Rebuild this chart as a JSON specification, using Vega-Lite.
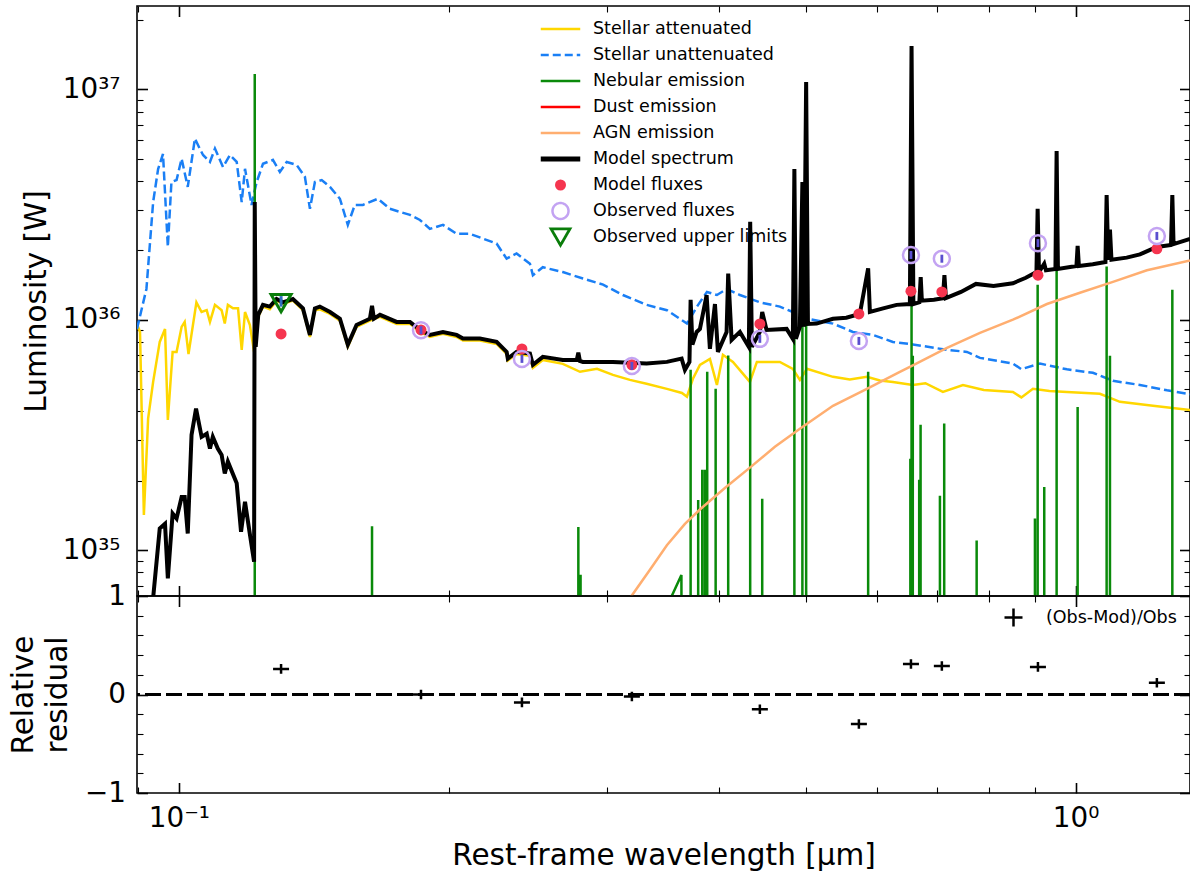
{
  "$schema": "https://vega.github.io/schema/vega-lite/v6.json",
  "background": "white",
  "padding": {"left": 7, "top": 4, "right": 0, "bottom": 0},
  "spacing": 0,
  "bounds": "flush",
  "config": {
    "font": "DejaVu Sans",
    "view": {"stroke": "black", "strokeWidth": 1.6},
    "axis": {"grid": false, "domain": false, "labelFont": "DejaVu Sans", "labelFontSize": 27.8, "labelColor": "black", "titleFont": "DejaVu Sans", "titleFontSize": 29.5, "titleFontWeight": "normal", "titleColor": "black", "tickColor": "black", "zindex": 1},
    "legend": {"labelFont": "DejaVu Sans", "labelColor": "black"}
  },
  "resolve": {
    "scale": {"shape": "independent", "stroke": "independent", "fill": "independent", "strokeDash": "independent", "strokeWidth": "independent", "size": "independent", "color": "independent"},
    "legend": {"shape": "independent", "stroke": "independent", "fill": "independent", "strokeDash": "independent", "strokeWidth": "independent", "size": "independent", "color": "independent"}
  },
  "datasets": {
    "att": [
      {"w":0.0898,"L":9.59e35},{"w":0.0905,"L":8.85e35},{"w":0.0914,"L":1.42e35},{"w":0.0924,"L":3.72e35},{"w":0.0936,"L":5.37e35},{"w":0.0952,"L":8.01e35},{"w":0.0965,"L":9.12e35},{"w":0.0972,"L":3.67e35},{"w":0.0984,"L":7.25e35},{"w":0.0994,"L":7.25e35},{"w":0.1007,"L":9.31e35},{"w":0.1015,"L":9.78e35},{"w":0.1025,"L":7.10e35},{"w":0.1046,"L":1.19e36},{"w":0.1060,"L":1.08e36},{"w":0.1074,"L":1.10e36},{"w":0.1083,"L":9.78e35},{"w":0.1097,"L":1.16e36},{"w":0.1116,"L":1.10e36},{"w":0.1125,"L":9.62e35},{"w":0.1134,"L":1.16e36},{"w":0.1149,"L":1.12e36},{"w":0.1164,"L":1.12e36},{"w":0.1175,"L":7.40e35},{"w":0.1185,"L":1.08e36},{"w":0.1200,"L":9.49e35},{"w":0.1213,"L":7.25e35},
      {"w":0.1226,"L":1.03e36},{"w":0.1241,"L":1.14e36},{"w":0.1263,"L":1.11e36},{"w":0.1285,"L":1.21e36},{"w":0.1306,"L":1.17e36},{"w":0.1340,"L":1.21e36},{"w":0.1375,"L":1.10e36},{"w":0.1400,"L":8.42e35},{"w":0.1418,"L":1.10e36},{"w":0.1436,"L":1.11e36},{"w":0.1474,"L":1.06e36},{"w":0.1512,"L":9.91e35},{"w":0.1543,"L":7.62e35},{"w":0.1578,"L":9.31e35},{"w":0.1633,"L":9.91e35},{"w":0.1676,"L":1.03e36},{"w":0.1749,"L":9.59e35},{"w":0.1810,"L":9.59e35},{"w":0.1857,"L":8.85e35},{"w":0.1905,"L":8.42e35},{"w":0.1970,"L":8.68e35},{"w":0.2040,"L":8.42e35},{"w":0.2074,"L":8.12e35},{"w":0.2166,"L":8.12e35},{"w":0.2261,"L":7.85e35},{"w":0.2320,"L":7.10e35},{"w":0.2327,"L":6.65e35},{"w":0.2380,"L":7.10e35},{"w":0.2463,"L":6.97e35},{"w":0.2482,"L":6.18e35},{"w":0.2546,"L":6.69e35},{"w":0.2680,"L":6.43e35},{"w":0.2801,"L":5.94e35},{"w":0.2926,"L":6.12e35},{"w":0.3048,"L":5.76e35},{"w":0.3184,"L":5.48e35},{"w":0.3323,"L":5.27e35},{"w":0.3501,"L":5.01e35},{"w":0.3639,"L":4.81e35},{"w":0.3686,"L":4.63e35},{"w":0.3743,"L":5.54e35},{"w":0.3811,"L":6.37e35},{"w":0.3910,"L":6.76e35},{"w":0.3981,"L":5.21e35},{"w":0.4043,"L":7.04e35},{"w":0.4148,"L":6.56e35},{"w":0.4333,"L":5.37e35},{"w":0.4411,"L":6.56e35},{"w":0.4679,"L":6.56e35},{"w":0.4838,"L":6.12e35},{"w":0.4926,"L":5.48e35},{"w":0.5016,"L":6.12e35},{"w":0.5363,"L":5.65e35},{"w":0.5600,"L":5.50e35},{"w":0.5851,"L":5.65e35},{"w":0.6050,"L":5.45e35},{"w":0.6255,"L":5.37e35},{"w":0.6584,"L":5.21e35},{"w":0.6800,"L":5.30e35},{"w":0.7112,"L":4.86e35},{"w":0.7488,"L":5.21e35},{"w":0.7900,"L":4.95e35},{"w":0.8513,"L":4.86e35},{"w":0.8700,"L":4.60e35},{"w":0.8962,"L":5.01e35},{"w":0.9350,"L":4.90e35},{"w":0.9779,"L":4.86e35},{"w":1.0644,"L":4.77e35},{"w":1.1205,"L":4.40e35},{"w":1.2198,"L":4.23e35},{"w":1.3414,"L":4.06e35}
    ],
    "unatt": [
      {"w":0.0898,"L":9.12e35},{"w":0.0920,"L":1.36e36},{"w":0.0936,"L":3.24e36},{"w":0.0948,"L":4.51e36},{"w":0.0960,"L":5.24e36},{"w":0.0972,"L":2.07e36},{"w":0.0981,"L":3.96e36},{"w":0.0994,"L":4.04e36},{"w":0.1007,"L":5.00e36},{"w":0.1023,"L":3.77e36},{"w":0.1042,"L":6.11e36},{"w":0.1055,"L":5.53e36},{"w":0.1064,"L":5.19e36},{"w":0.1083,"L":4.84e36},{"w":0.1097,"L":5.53e36},{"w":0.1120,"L":4.60e36},{"w":0.1140,"L":5.19e36},{"w":0.1160,"L":4.84e36},{"w":0.1175,"L":3.24e36},{"w":0.1185,"L":4.52e36},{"w":0.1205,"L":3.15e36},{"w":0.1221,"L":3.96e36},{"w":0.1241,"L":4.75e36},{"w":0.1273,"L":4.94e36},{"w":0.1296,"L":4.38e36},{"w":0.1319,"L":4.84e36},{"w":0.1353,"L":4.70e36},{"w":0.1382,"L":4.17e36},{"w":0.1400,"L":3.03e36},{"w":0.1418,"L":3.96e36},{"w":0.1443,"L":4.04e36},{"w":0.1474,"L":3.77e36},{"w":0.1512,"L":3.35e36},{"w":0.1543,"L":2.58e36},{"w":0.1571,"L":3.15e36},{"w":0.1604,"L":3.15e36},{"w":0.1667,"L":3.35e36},{"w":0.1719,"L":3.03e36},{"w":0.1810,"L":2.85e36},{"w":0.1857,"L":2.71e36},{"w":0.1905,"L":2.48e36},{"w":0.1970,"L":2.58e36},{"w":0.2040,"L":2.36e36},{"w":0.2111,"L":2.36e36},{"w":0.2183,"L":2.25e36},{"w":0.2261,"L":2.14e36},{"w":0.2320,"L":1.84e36},{"w":0.2380,"L":1.94e36},{"w":0.2463,"L":1.75e36},{"w":0.2482,"L":1.56e36},{"w":0.2546,"L":1.69e36},{"w":0.2680,"L":1.61e36},{"w":0.2822,"L":1.51e36},{"w":0.2972,"L":1.42e36},{"w":0.3127,"L":1.28e36},{"w":0.3323,"L":1.16e36},{"w":0.3501,"L":1.10e36},{"w":0.3686,"L":9.62e35},{"w":0.3782,"L":1.14e36},{"w":0.3880,"L":1.32e36},{"w":0.3981,"L":1.28e36},{"w":0.4084,"L":1.36e36},{"w":0.4223,"L":1.28e36},{"w":0.4445,"L":1.19e36},{"w":0.4679,"L":1.14e36},{"w":0.4838,"L":1.08e36},{"w":0.5016,"L":1.01e36},{"w":0.5363,"L":9.62e35},{"w":0.5644,"L":8.85e35},{"w":0.5942,"L":8.59e35},{"w":0.6255,"L":8.01e35},{"w":0.6584,"L":7.81e35},{"w":0.7187,"L":7.40e35},{"w":0.7565,"L":7.25e35},{"w":0.7822,"L":6.83e35},{"w":0.8513,"L":6.45e35},{"w":0.8700,"L":6.10e35},{"w":0.9125,"L":6.45e35},{"w":0.9779,"L":6.09e35},{"w":1.0455,"L":5.88e35},{"w":1.1006,"L":5.43e35},{"w":1.1796,"L":5.21e35},{"w":1.2645,"L":4.94e35},{"w":1.3414,"L":4.75e35}
    ],
    "neb": [
      {"w":0.1215,"L":3e34},{"w":0.1215,"L":1.165e37},{"w":0.1215,"L":3e34},
      {"w":0.1642,"L":3e34},{"w":0.1642,"L":1.27e35},{"w":0.1642,"L":3e34},
      {"w":0.2789,"L":3e34},{"w":0.2789,"L":1.26e35},{"w":0.2789,"L":3e34},
      {"w":0.2805,"L":3e34},{"w":0.2805,"L":7.81e34},{"w":0.2805,"L":3e34},
      {"w":0.3439,"L":4.89e34},{"w":0.3634,"L":7.79e34},{"w":0.3636,"L":3e34},
      {"w":0.3721,"L":3e34},{"w":0.3721,"L":6.06e35},{"w":0.3721,"L":3e34},
      {"w":0.3794,"L":3e34},{"w":0.3794,"L":1.65e35},{"w":0.3794,"L":3e34},
      {"w":0.3834,"L":3e34},{"w":0.3834,"L":2.23e35},{"w":0.3834,"L":3e34},
      {"w":0.3860,"L":3e34},{"w":0.3860,"L":2.23e35},{"w":0.3860,"L":3e34},
      {"w":0.3883,"L":3e34},{"w":0.3883,"L":5.94e35},{"w":0.3883,"L":3e34},
      {"w":0.3968,"L":3e34},{"w":0.3968,"L":5.01e35},{"w":0.3968,"L":3e34},
      {"w":0.4098,"L":3e34},{"w":0.4098,"L":7.0e35},{"w":0.4098,"L":3e34},
      {"w":0.4336,"L":3e34},{"w":0.4336,"L":1.90e36},{"w":0.4336,"L":3e34},
      {"w":0.4472,"L":3e34},{"w":0.4472,"L":1.67e35},{"w":0.4472,"L":3e34},
      {"w":0.4857,"L":3e34},{"w":0.4857,"L":3.63e36},{"w":0.4857,"L":3e34},
      {"w":0.4958,"L":3e34},{"w":0.4958,"L":3.03e36},{"w":0.4958,"L":3e34},
      {"w":0.5006,"L":3e34},{"w":0.5006,"L":9.8e36},{"w":0.5006,"L":3e34},
      {"w":0.5870,"L":3e34},{"w":0.5870,"L":5.94e35},{"w":0.5870,"L":3e34},
      {"w":0.6542,"L":3e34},{"w":0.6542,"L":2.49e35},{"w":0.6542,"L":3e34},
      {"w":0.6562,"L":3e34},{"w":0.6562,"L":1.43e37},{"w":0.6562,"L":3e34},
      {"w":0.6583,"L":3e34},{"w":0.6583,"L":6.97e35},{"w":0.6583,"L":3e34},
      {"w":0.6692,"L":3e34},{"w":0.6692,"L":2.02e35},{"w":0.6692,"L":3e34},
      {"w":0.6716,"L":3e34},{"w":0.6716,"L":3.50e35},{"w":0.6716,"L":3e34},
      {"w":0.7058,"L":3e34},{"w":0.7058,"L":1.72e35},{"w":0.7058,"L":3e34},
      {"w":0.7136,"L":3e34},{"w":0.7136,"L":3.54e35},{"w":0.7136,"L":3e34},
      {"w":0.7756,"L":3e34},{"w":0.7756,"L":1.10e35},{"w":0.7756,"L":3e34},
      {"w":0.9008,"L":3e34},{"w":0.9008,"L":1.37e35},{"w":0.9008,"L":3e34},
      {"w":0.9071,"L":3e34},{"w":0.9071,"L":1.42e36},{"w":0.9071,"L":3e34},
      {"w":0.9226,"L":3e34},{"w":0.9226,"L":1.88e35},{"w":0.9226,"L":3e34},
      {"w":0.9524,"L":3e34},{"w":0.9524,"L":3.8e36},{"w":0.9524,"L":3e34},
      {"w":1.0052,"L":3e34},{"w":1.0052,"L":4.18e35},{"w":1.0052,"L":3e34},
      {"w":1.0829,"L":3e34},{"w":1.0829,"L":1.70e36},{"w":1.0829,"L":3e34},
      {"w":1.0922,"L":3e34},{"w":1.0922,"L":6.97e35},{"w":1.0922,"L":3e34},
      {"w":1.2819,"L":3e34},{"w":1.2819,"L":1.35e36},{"w":1.2819,"L":3e34}
    ],
    "agn": [
      {"w":0.3103,"L":5.40e34},{"w":0.3198,"L":6.33e34},{"w":0.3352,"L":8.21e34},{"w":0.3501,"L":1.05e35},{"w":0.3667,"L":1.30e35},{"w":0.3811,"L":1.50e35},{"w":0.4063,"L":1.86e35},{"w":0.4333,"L":2.28e35},{"w":0.4620,"L":2.81e35},{"w":0.4926,"L":3.36e35},{"w":0.5363,"L":4.23e35},{"w":0.5851,"L":5.01e35},{"w":0.6368,"L":5.94e35},{"w":0.6584,"L":6.33e35},{"w":0.7187,"L":7.55e35},{"w":0.7822,"L":8.76e35},{"w":0.8513,"L":1.00e36},{"w":0.9290,"L":1.17e36},{"w":1.0111,"L":1.31e36},{"w":1.1006,"L":1.46e36},{"w":1.2010,"L":1.64e36},{"w":1.3414,"L":1.81e36}
    ],
    "model": [
      {"w":0.0926,"L":4.00e34},{"w":0.0952,"L":1.24e35},{"w":0.0965,"L":1.30e35},{"w":0.0972,"L":7.53e34},{"w":0.0984,"L":1.44e35},{"w":0.0994,"L":1.37e35},{"w":0.1007,"L":1.70e35},{"w":0.1015,"L":1.70e35},{"w":0.1023,"L":1.18e35},{"w":0.1033,"L":3.16e35},{"w":0.1045,"L":4.11e35},{"w":0.1060,"L":3.10e35},{"w":0.1074,"L":3.20e35},{"w":0.1083,"L":2.76e35},{"w":0.1091,"L":3.10e35},{"w":0.1105,"L":2.76e35},{"w":0.1116,"L":2.59e35},{"w":0.1125,"L":2.15e35},{"w":0.1134,"L":2.42e35},{"w":0.1160,"L":1.95e35},{"w":0.1173,"L":1.20e35},{"w":0.1185,"L":1.62e35},{"w":0.1200,"L":1.17e35},{"w":0.1213,"L":8.90e34},{"w":0.1215,"L":3.24e36},{"w":0.1218,"L":7.62e35},{"w":0.1226,"L":1.05e36},{"w":0.1241,"L":1.16e36},{"w":0.1263,"L":1.14e36},{"w":0.1285,"L":1.23e36},{"w":0.1306,"L":1.19e36},{"w":0.1340,"L":1.23e36},{"w":0.1375,"L":1.12e36},{"w":0.1400,"L":8.59e35},{"w":0.1418,"L":1.12e36},{"w":0.1436,"L":1.14e36},{"w":0.1474,"L":1.08e36},{"w":0.1512,"L":1.01e36},{"w":0.1543,"L":7.78e35},{"w":0.1578,"L":9.49e35},{"w":0.1633,"L":1.01e36},{"w":0.1642,"L":1.15e36},{"w":0.1650,"L":1.01e36},{"w":0.1676,"L":1.05e36},{"w":0.1749,"L":9.78e35},{"w":0.1810,"L":9.78e35},{"w":0.1857,"L":9.03e35},{"w":0.1905,"L":8.59e35},{"w":0.1970,"L":8.85e35},{"w":0.2040,"L":8.59e35},{"w":0.2074,"L":8.28e35},{"w":0.2166,"L":8.28e35},{"w":0.2261,"L":8.01e35},{"w":0.2320,"L":7.25e35},{"w":0.2327,"L":6.78e35},{"w":0.2380,"L":7.25e35},{"w":0.2463,"L":7.13e35},{"w":0.2482,"L":6.37e35},{"w":0.2546,"L":6.90e35},{"w":0.2680,"L":6.69e35},{"w":0.2778,"L":6.69e35},{"w":0.2789,"L":7.2e35},{"w":0.2800,"L":6.62e35},{"w":0.2822,"L":6.56e35},{"w":0.3048,"L":6.56e35},{"w":0.3323,"L":6.45e35},{"w":0.3501,"L":6.56e35},{"w":0.3636,"L":6.78e35},{"w":0.3667,"L":6.06e35},{"w":0.3710,"L":6.56e35},{"w":0.3721,"L":1.22e36},{"w":0.3738,"L":7.8e35},{"w":0.3779,"L":8.85e35},{"w":0.3811,"L":9.12e35},{"w":0.3877,"L":1.28e36},{"w":0.3910,"L":7.47e35},{"w":0.3961,"L":1.17e36},{"w":0.3991,"L":7.25e35},{"w":0.4081,"L":8.85e35},{"w":0.4098,"L":1.585e36},{"w":0.4134,"L":8.17e35},{"w":0.4223,"L":8.85e35},{"w":0.4321,"L":7.62e35},{"w":0.4336,"L":2.66e36},{"w":0.4355,"L":7.62e35},{"w":0.4445,"L":8.85e35},{"w":0.4472,"L":1.08e36},{"w":0.4522,"L":9.03e35},{"w":0.4761,"L":9.12e35},{"w":0.4838,"L":8.26e35},{"w":0.4857,"L":4.51e36},{"w":0.4876,"L":8.26e35},{"w":0.4926,"L":9.31e35},{"w":0.4958,"L":3.96e36},{"w":0.4977,"L":9.31e35},{"w":0.5006,"L":1.076e37},{"w":0.5029,"L":9.59e35},{"w":0.5142,"L":9.62e35},{"w":0.5363,"L":1.01e36},{"w":0.5550,"L":1.02e36},{"w":0.5746,"L":1.06e36},{"w":0.5870,"L":1.67e36},{"w":0.5896,"L":1.08e36},{"w":0.6100,"L":1.12e36},{"w":0.6315,"L":1.16e36},{"w":0.6534,"L":1.17e36},{"w":0.6562,"L":1.542e37},{"w":0.6593,"L":1.17e36},{"w":0.6695,"L":1.19e36},{"w":0.6718,"L":1.53e36},{"w":0.6738,"L":1.21e36},{"w":0.6950,"L":1.22e36},{"w":0.7112,"L":1.24e36},{"w":0.7140,"L":1.56e36},{"w":0.7167,"L":1.24e36},{"w":0.7450,"L":1.32e36},{"w":0.7742,"L":1.43e36},{"w":0.8100,"L":1.40e36},{"w":0.8513,"L":1.44e36},{"w":0.8800,"L":1.52e36},{"w":0.9043,"L":1.61e36},{"w":0.9071,"L":3.03e36},{"w":0.9102,"L":1.61e36},{"w":0.9226,"L":1.75e36},{"w":0.9266,"L":1.64e36},{"w":0.9495,"L":1.66e36},{"w":0.9524,"L":5.40e36},{"w":0.9556,"L":1.66e36},{"w":1.0021,"L":1.71e36},{"w":1.0052,"L":2.09e36},{"w":1.0085,"L":1.71e36},{"w":1.0450,"L":1.74e36},{"w":1.0796,"L":1.78e36},{"w":1.0829,"L":3.48e36},{"w":1.0874,"L":1.82e36},{"w":1.0922,"L":2.46e36},{"w":1.0964,"L":1.82e36},{"w":1.1400,"L":1.86e36},{"w":1.1796,"L":1.92e36},{"w":1.2314,"L":2.07e36},{"w":1.2776,"L":2.11e36},{"w":1.2819,"L":3.48e36},{"w":1.2859,"L":2.13e36},{"w":1.3414,"L":2.24e36}
    ],
    "modflux": [
      {"w":0.1300,"L":8.68e35},{"w":0.1862,"L":9.03e35},{"w":0.2413,"L":7.47e35},{"w":0.3200,"L":6.37e35},{"w":0.4445,"L":9.59e35},{"w":0.5732,"L":1.06e36},{"w":0.6552,"L":1.33e36},{"w":0.7093,"L":1.32e36},{"w":0.9078,"L":1.56e36},{"w":1.232,"L":2.03e36}
    ],
    "obs": [
      {"w":0.1862,"L":9.0e35},{"w":0.2413,"L":6.76e35},{"w":0.3200,"L":6.3e35},{"w":0.4445,"L":8.26e35},{"w":0.5732,"L":8.09e35},{"w":0.6552,"L":1.91e36},{"w":0.7093,"L":1.84e36},{"w":0.9078,"L":2.15e36},{"w":1.232,"L":2.31e36}
    ],
    "upper": [{"w":0.1300,"L":1.18e36}],
    "resid": [
      {"w":0.1300,"r":0.26},{"w":0.1862,"r":0.0},{"w":0.2413,"r":-0.08},{"w":0.3200,"r":-0.02},{"w":0.4445,"r":-0.15},{"w":0.5732,"r":-0.30},{"w":0.6552,"r":0.31},{"w":0.7093,"r":0.29},{"w":0.9078,"r":0.28},{"w":1.232,"r":0.12}
    ],
    "legend": [
      {"series":"Stellar attenuated"},{"series":"Stellar unattenuated"},{"series":"Nebular emission"},{"series":"Dust emission"},{"series":"AGN emission"},{"series":"Model spectrum"},{"series":"Model fluxes"},{"series":"Observed fluxes"},{"series":"Observed upper limits"}
    ]
  },
  "vconcat": [
    {
      "width": 1053,
      "height": 590,
      "resolve": {"axis": {"x": "independent", "y": "independent"}},
      "layer": [
        {
          "data": {"name": "att"},
          "mark": {"type": "line", "stroke": "#ffd700", "strokeWidth": 2.5, "clip": true},
          "encoding": {
            "x": {"field": "w", "type": "quantitative", "scale": {"type": "log", "domain": [0.0898, 1.3414], "nice": false}, "axis": {"orient": "bottom", "values": [0.1, 1], "labels": false, "tickSize": -10.5, "tickWidth": 1.6, "title": null}},
            "y": {"field": "L", "type": "quantitative", "scale": {"type": "log", "domain": [6.32e34, 2.3e37], "nice": false}, "axis": {"orient": "left", "values": [1e35, 1e36, 1e37], "tickSize": -10.5, "tickWidth": 1.6, "labelExpr": "datum.value < 5e35 ? '10³⁵' : (datum.value < 5e36 ? '10³⁶' : '10³⁷')", "labelPadding": 27.5, "title": "Luminosity [W]", "titlePadding": 11}},
            "order": {"value": null}
          }
        },
        {
          "data": {"name": "unatt"},
          "mark": {"type": "line", "stroke": "#1a7ff5", "strokeWidth": 2.5, "strokeDash": [9, 4], "clip": true},
          "encoding": {
            "x": {"field": "w", "type": "quantitative", "scale": {"type": "log", "domain": [0.0898, 1.3414], "nice": false}, "axis": {"orient": "bottom", "values": [0.09, 0.2, 0.3, 0.4, 0.5, 0.6, 0.7, 0.8, 0.9], "labels": false, "tickSize": -6, "tickWidth": 1.1, "title": null}},
            "y": {"field": "L", "type": "quantitative", "scale": {"type": "log", "domain": [6.32e34, 2.3e37], "nice": false}, "axis": {"orient": "left", "values": [7e34, 8e34, 9e34, 2e35, 3e35, 4e35, 5e35, 6e35, 7e35, 8e35, 9e35, 2e36, 3e36, 4e36, 5e36, 6e36, 7e36, 8e36, 9e36, 2e37], "labels": false, "tickSize": -6, "tickWidth": 1.1, "title": null}},
            "order": {"value": null}
          }
        },
        {
          "data": {"name": "neb"},
          "mark": {"type": "line", "stroke": "#0a8a0a", "strokeWidth": 2.5, "clip": true},
          "encoding": {
            "x": {"field": "w", "type": "quantitative", "scale": {"type": "log", "domain": [0.0898, 1.3414], "nice": false}, "axis": {"orient": "top", "values": [0.1, 1], "labels": false, "tickSize": -10.5, "tickWidth": 1.6, "title": null}},
            "y": {"field": "L", "type": "quantitative", "scale": {"type": "log", "domain": [6.32e34, 2.3e37], "nice": false}, "axis": {"orient": "right", "values": [1e35, 1e36, 1e37], "labels": false, "tickSize": -10.5, "tickWidth": 1.6, "title": null}},
            "order": {"value": null}
          }
        },
        {
          "data": {"name": "agn"},
          "mark": {"type": "line", "stroke": "#ffae70", "strokeWidth": 2.5, "clip": true},
          "encoding": {
            "x": {"field": "w", "type": "quantitative", "scale": {"type": "log", "domain": [0.0898, 1.3414], "nice": false}, "axis": {"orient": "top", "values": [0.09, 0.2, 0.3, 0.4, 0.5, 0.6, 0.7, 0.8, 0.9], "labels": false, "tickSize": -6, "tickWidth": 1.1, "title": null}},
            "y": {"field": "L", "type": "quantitative", "scale": {"type": "log", "domain": [6.32e34, 2.3e37], "nice": false}, "axis": {"orient": "right", "values": [7e34, 8e34, 9e34, 2e35, 3e35, 4e35, 5e35, 6e35, 7e35, 8e35, 9e35, 2e36, 3e36, 4e36, 5e36, 6e36, 7e36, 8e36, 9e36, 2e37], "labels": false, "tickSize": -6, "tickWidth": 1.1, "title": null}},
            "order": {"value": null}
          }
        },
        {
          "data": {"name": "model"},
          "mark": {"type": "line", "stroke": "black", "strokeWidth": 4, "clip": true},
          "encoding": {
            "x": {"field": "w", "type": "quantitative", "scale": {"type": "log", "domain": [0.0898, 1.3414], "nice": false}, "axis": null},
            "y": {"field": "L", "type": "quantitative", "scale": {"type": "log", "domain": [6.32e34, 2.3e37], "nice": false}, "axis": null},
            "order": {"value": null}
          }
        },
        {
          "data": {"name": "modflux"},
          "mark": {"type": "point", "shape": "circle", "filled": true, "fill": "#f5354f", "opacity": 1, "size": 121, "strokeWidth": 0},
          "encoding": {
            "x": {"field": "w", "type": "quantitative", "scale": {"type": "log", "domain": [0.0898, 1.3414], "nice": false}, "axis": null},
            "y": {"field": "L", "type": "quantitative", "scale": {"type": "log", "domain": [6.32e34, 2.3e37], "nice": false}, "axis": null}
          }
        },
        {
          "data": {"name": "obs"},
          "mark": {"type": "point", "shape": "circle", "filled": false, "stroke": "#c3a3f2", "opacity": 1, "size": 256, "strokeWidth": 2.5},
          "encoding": {
            "x": {"field": "w", "type": "quantitative", "scale": {"type": "log", "domain": [0.0898, 1.3414], "nice": false}, "axis": null},
            "y": {"field": "L", "type": "quantitative", "scale": {"type": "log", "domain": [6.32e34, 2.3e37], "nice": false}, "axis": null}
          }
        },
        {
          "data": {"name": "obs"},
          "mark": {"type": "point", "shape": "M0,-1V1", "filled": false, "stroke": "#5a4fcf", "opacity": 1, "size": 64, "strokeWidth": 2.8},
          "encoding": {
            "x": {"field": "w", "type": "quantitative", "scale": {"type": "log", "domain": [0.0898, 1.3414], "nice": false}, "axis": null},
            "y": {"field": "L", "type": "quantitative", "scale": {"type": "log", "domain": [6.32e34, 2.3e37], "nice": false}, "axis": null}
          }
        },
        {
          "data": {"name": "upper"},
          "mark": {"type": "point", "shape": "M0,-1V0.5", "filled": false, "stroke": "#2f6fbf", "opacity": 1, "size": 200, "strokeWidth": 3},
          "encoding": {
            "x": {"field": "w", "type": "quantitative", "scale": {"type": "log", "domain": [0.0898, 1.3414], "nice": false}, "axis": null},
            "y": {"field": "L", "type": "quantitative", "scale": {"type": "log", "domain": [6.32e34, 2.3e37], "nice": false}, "axis": null}
          }
        },
        {
          "data": {"name": "upper"},
          "mark": {"type": "point", "shape": "triangle-down", "filled": false, "stroke": "#0a7d0a", "opacity": 1, "size": 400, "strokeWidth": 3},
          "encoding": {
            "x": {"field": "w", "type": "quantitative", "scale": {"type": "log", "domain": [0.0898, 1.3414], "nice": false}, "axis": null},
            "y": {"field": "L", "type": "quantitative", "scale": {"type": "log", "domain": [6.32e34, 2.3e37], "nice": false}, "axis": null}
          }
        },
        {
          "data": {"name": "legend"},
          "mark": {"type": "point", "filled": true, "opacity": 0},
          "encoding": {
            "shape": {"field": "series", "type": "nominal",
              "scale": {"domain": ["Stellar attenuated","Stellar unattenuated","Nebular emission","Dust emission","AGN emission","Model spectrum","Model fluxes","Observed fluxes","Observed upper limits"], "range": ["stroke","stroke","stroke","stroke","stroke","stroke","circle","circle","triangle-down"]},
              "legend": {"title": null, "orient": "none", "legendX": 401, "legendY": 10, "padding": 0, "rowPadding": 0, "clipHeight": 26, "labelFontSize": 17.5, "labelOffset": 10, "labelLimit": 400, "symbolOpacity": 1, "symbolFillColor": "transparent", "symbolStrokeColor": "black"}},
            "stroke": {"field": "series", "type": "nominal",
              "scale": {"domain": ["Stellar attenuated","Stellar unattenuated","Nebular emission","Dust emission","AGN emission","Model spectrum","Model fluxes","Observed fluxes","Observed upper limits"], "range": ["#ffd700","#1a7ff5","#0a8a0a","#ff0000","#ffae70","#000000","#f5354f","#c3a3f2","#0a7d0a"]},
              "legend": {"title": null, "orient": "none", "legendX": 401, "legendY": 10, "padding": 0, "rowPadding": 0, "clipHeight": 26, "labelFontSize": 17.5, "labelOffset": 10, "labelLimit": 400, "symbolOpacity": 1, "symbolFillColor": "transparent", "symbolStrokeColor": "black"}},
            "fill": {"field": "series", "type": "nominal",
              "scale": {"domain": ["Stellar attenuated","Stellar unattenuated","Nebular emission","Dust emission","AGN emission","Model spectrum","Model fluxes","Observed fluxes","Observed upper limits"], "range": ["transparent","transparent","transparent","transparent","transparent","transparent","#f5354f","transparent","transparent"]},
              "legend": {"title": null, "orient": "none", "legendX": 401, "legendY": 10, "padding": 0, "rowPadding": 0, "clipHeight": 26, "labelFontSize": 17.5, "labelOffset": 10, "labelLimit": 400, "symbolOpacity": 1, "symbolFillColor": "transparent", "symbolStrokeColor": "black"}},
            "strokeDash": {"field": "series", "type": "nominal",
              "scale": {"domain": ["Stellar attenuated","Stellar unattenuated","Nebular emission","Dust emission","AGN emission","Model spectrum","Model fluxes","Observed fluxes","Observed upper limits"], "range": [[1,0],[8,4],[1,0],[1,0],[1,0],[1,0],[1,0],[1,0],[1,0]]},
              "legend": {"title": null, "orient": "none", "legendX": 401, "legendY": 10, "padding": 0, "rowPadding": 0, "clipHeight": 26, "labelFontSize": 17.5, "labelOffset": 10, "labelLimit": 400, "symbolOpacity": 1, "symbolFillColor": "transparent", "symbolStrokeColor": "black"}},
            "strokeWidth": {"field": "series", "type": "nominal",
              "scale": {"type": "ordinal", "domain": ["Stellar attenuated","Stellar unattenuated","Nebular emission","Dust emission","AGN emission","Model spectrum","Model fluxes","Observed fluxes","Observed upper limits"], "range": [2.5,2.5,2.5,2.5,2.5,5,0,2.5,2.8]},
              "legend": {"title": null, "orient": "none", "legendX": 401, "legendY": 10, "padding": 0, "rowPadding": 0, "clipHeight": 26, "labelFontSize": 17.5, "labelOffset": 10, "labelLimit": 400, "symbolOpacity": 1, "symbolFillColor": "transparent", "symbolStrokeColor": "black"}},
            "size": {"field": "series", "type": "nominal",
              "scale": {"type": "ordinal", "domain": ["Stellar attenuated","Stellar unattenuated","Nebular emission","Dust emission","AGN emission","Model spectrum","Model fluxes","Observed fluxes","Observed upper limits"], "range": [1560,1560,1560,1560,1560,1560,121,256,360]},
              "legend": {"title": null, "orient": "none", "legendX": 401, "legendY": 10, "padding": 0, "rowPadding": 0, "clipHeight": 26, "labelFontSize": 17.5, "labelOffset": 10, "labelLimit": 400, "symbolOpacity": 1, "symbolFillColor": "transparent", "symbolStrokeColor": "black"}}
          }
        }
      ]
    },
    {
      "width": 1053,
      "height": 197,
      "resolve": {"axis": {"x": "independent", "y": "independent"}},
      "layer": [
        {
          "data": {"values": [{"ref": 0}]},
          "mark": {"type": "rule", "stroke": "black", "strokeWidth": 3.2, "strokeDash": [16, 5]},
          "encoding": {
            "y": {"field": "ref", "type": "quantitative", "scale": {"domain": [-1, 1], "nice": false, "zero": false}, "axis": {"orient": "left", "values": [-0.8, -0.6, -0.4, -0.2, 0.2, 0.4, 0.6, 0.8], "labels": false, "tickSize": -6, "tickWidth": 1.1, "title": null}}
          }
        },
        {
          "data": {"name": "resid"},
          "mark": {"type": "point", "shape": "M-1,0H1M0,-0.6V0.6", "filled": false, "opacity": 1, "size": 256, "strokeWidth": 2.5},
          "encoding": {
            "x": {"field": "w", "type": "quantitative", "scale": {"type": "log", "domain": [0.0898, 1.3414], "nice": false}, "axis": {"orient": "bottom", "values": [0.1, 1], "tickSize": -10.5, "tickWidth": 1.6, "labelExpr": "datum.value < 0.5 ? '10⁻¹' : '10⁰'", "labelPadding": 22, "title": "Rest-frame wavelength [μm]", "titlePadding": 9}},
            "y": {"field": "r", "type": "quantitative", "scale": {"domain": [-1, 1], "nice": false, "zero": false}, "axis": {"orient": "left", "values": [-1, 0, 1], "tickSize": -10.5, "tickWidth": 1.6, "labelExpr": "datum.value < -0.5 ? '−1' : (datum.value > 0.5 ? '1' : '0')", "labelPadding": 22, "title": ["Relative", "residual"], "titlePadding": 12, "titleLineHeight": 34}},
            "stroke": {"datum": "(Obs-Mod)/Obs", "scale": {"range": ["black"]}, "legend": {"title": null, "orient": "none", "legendX": 866, "legendY": 11, "padding": 0, "symbolType": "M-1,0H1M0,-1V1", "symbolSize": 324, "symbolStrokeWidth": 2.5, "labelFontSize": 17.5, "labelOffset": 22, "labelLimit": 300}}
          }
        },
        {
          "data": {"name": "resid"},
          "mark": {"type": "point", "opacity": 0},
          "encoding": {
            "x": {"field": "w", "type": "quantitative", "scale": {"type": "log", "domain": [0.0898, 1.3414], "nice": false}, "axis": {"orient": "bottom", "values": [0.09, 0.2, 0.3, 0.4, 0.5, 0.6, 0.7, 0.8, 0.9], "labels": false, "tickSize": -6, "tickWidth": 1.1, "title": null}},
            "y": {"field": "r", "type": "quantitative", "scale": {"domain": [-1, 1], "nice": false, "zero": false}, "axis": {"orient": "right", "values": [-1, 0, 1], "labels": false, "tickSize": -10.5, "tickWidth": 1.6, "title": null}}
          }
        },
        {
          "data": {"name": "resid"},
          "mark": {"type": "point", "opacity": 0},
          "encoding": {
            "x": {"field": "w", "type": "quantitative", "scale": {"type": "log", "domain": [0.0898, 1.3414], "nice": false}, "axis": {"orient": "top", "values": [0.1, 1], "labels": false, "tickSize": -10.5, "tickWidth": 1.6, "title": null}},
            "y": {"field": "r", "type": "quantitative", "scale": {"domain": [-1, 1], "nice": false, "zero": false}, "axis": {"orient": "right", "values": [-0.8, -0.6, -0.4, -0.2, 0.2, 0.4, 0.6, 0.8], "labels": false, "tickSize": -6, "tickWidth": 1.1, "title": null}}
          }
        },
        {
          "data": {"name": "resid"},
          "mark": {"type": "point", "opacity": 0},
          "encoding": {
            "x": {"field": "w", "type": "quantitative", "scale": {"type": "log", "domain": [0.0898, 1.3414], "nice": false}, "axis": {"orient": "top", "values": [0.09, 0.2, 0.3, 0.4, 0.5, 0.6, 0.7, 0.8, 0.9], "labels": false, "tickSize": -6, "tickWidth": 1.1, "title": null}}
          }
        }
      ]
    }
  ]
}
